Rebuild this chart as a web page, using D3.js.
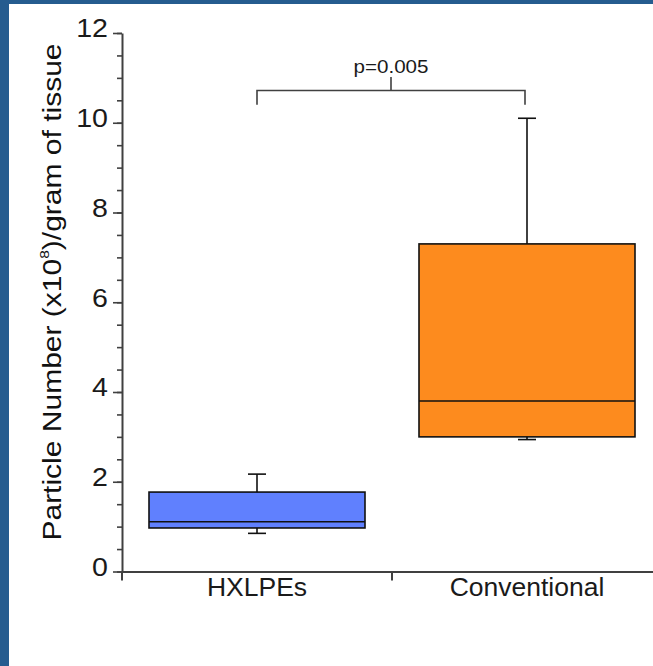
<!DOCTYPE html>
<html>
<head>
<meta charset="utf-8">
<script src="https://cdn.jsdelivr.net/npm/d3@7"></script>
<style>
  html, body { margin: 0; padding: 0; background: #fff; }
  svg { display: block; font-family: "Liberation Sans", Arial, sans-serif; }
</style>
</head>
<body>
<div id="chart"></div>
<script>

//******************************************************************************
//**  Data
//******************************************************************************
var categories = ["HXLPEs", "Conventional"];
var whiskerLow  = [0.85, 2.94];
var q1          = [0.97, 3.00];
var median      = [1.11, 3.80];
var q3          = [1.77, 7.30];
var whiskerHigh = [2.17, 10.1];
var majorTicks = [0, 2, 4, 6, 8, 10, 12];
var minorTicks = d3.range(0, 12.01, 0.5);
var pLabel = "p=0.005";


//******************************************************************************
//**  Chart
//******************************************************************************
var width = 653, height = 666;
var colors = d3.scaleOrdinal().domain(categories).range(["#6080fe", "#fd8b1e"]);

var svg = d3.select("#chart").append("svg")
    .attr("width", width)
    .attr("height", height);

  //Frame
    svg.append("rect").attr("x", 0).attr("y", 0).attr("width", width).attr("height", height).attr("fill", "#fff");
    svg.append("rect").attr("x", 0).attr("y", 0).attr("width", 9).attr("height", height).attr("fill", "#255c8f");
    svg.append("rect").attr("x", 0).attr("y", 0).attr("width", width).attr("height", 4).attr("fill", "#255c8f");


  //Scales
    var y = d3.scaleLinear().domain([0, 12]).range([571.5, 33]);
    var x = d3.scaleBand().domain(categories).range([122, 662]).padding(0);
    var boxW = x.bandwidth() * 0.8;
    var capW = 18;
    var axisColor = "#404040";


  //Y axis (minor then major ticks)
    var yMinor = svg.append("g")
        .attr("transform", "translate(122,0)")
        .call(d3.axisLeft(y).tickValues(minorTicks).tickSize(5).tickSizeOuter(0).tickFormat(""));
    yMinor.select(".domain").remove();
    yMinor.selectAll("line").attr("stroke", axisColor).attr("stroke-width", 1.6);

    var yMajor = svg.append("g")
        .attr("transform", "translate(122,0)")
        .call(d3.axisLeft(y).tickValues(majorTicks).tickSize(9).tickSizeOuter(0).tickPadding(5).tickFormat(d3.format("d")));
    yMajor.select(".domain").attr("stroke", axisColor).attr("stroke-width", 2);
    yMajor.selectAll("line").attr("stroke", axisColor).attr("stroke-width", 1.6);
    yMajor.selectAll("text")
        .attr("font-size", 26)
        .attr("fill", "#1a1a1a")
        .attr("dy", "0.15em")
        .each(function(){
            var w = this.getComputedTextLength();
            d3.select(this).attr("textLength", w * 1.1).attr("lengthAdjust", "spacingAndGlyphs");
        });


  //X axis
    var xAxis = svg.append("g")
        .attr("transform", "translate(0," + y(0) + ")")
        .call(d3.axisBottom(x).tickSize(0).tickSizeOuter(0).tickPadding(5));
    xAxis.select(".domain").attr("stroke", axisColor).attr("stroke-width", 2);
    xAxis.selectAll("text")
        .attr("font-size", 26.5)
        .attr("fill", "#1a1a1a")
        .attr("dy", "0.75em");

  //Category boundary ticks
    var bounds = categories.map(function(d){ return x(d); }).concat([x.range()[1]]);
    svg.append("g").selectAll("line")
        .data(bounds)
        .enter()
        .append("line")
        .attr("x1", function(d){ return d; })
        .attr("x2", function(d){ return d; })
        .attr("y1", y(0))
        .attr("y2", y(0) + 9)
        .attr("stroke", axisColor)
        .attr("stroke-width", 2);


  //Boxes
    var boxes = svg.append("g").selectAll("g")
        .data(categories)
        .enter()
        .append("g");

    boxes.append("line")
        .attr("x1", function(d){ return x(d) + x.bandwidth()/2; })
        .attr("x2", function(d){ return x(d) + x.bandwidth()/2; })
        .attr("y1", function(d, i){ return y(whiskerHigh[i]); })
        .attr("y2", function(d, i){ return y(whiskerLow[i]); })
        .attr("stroke", "#111").attr("stroke-width", 1.6);

    boxes.selectAll(".cap")
        .data(function(d, i){ return [{c: d, v: whiskerLow[i]}, {c: d, v: whiskerHigh[i]}]; })
        .enter()
        .append("line")
        .attr("class", "cap")
        .attr("x1", function(d){ return x(d.c) + x.bandwidth()/2 - capW/2; })
        .attr("x2", function(d){ return x(d.c) + x.bandwidth()/2 + capW/2; })
        .attr("y1", function(d){ return y(d.v); })
        .attr("y2", function(d){ return y(d.v); })
        .attr("stroke", "#111").attr("stroke-width", 1.6);

    boxes.append("rect")
        .attr("x", function(d){ return x(d) + (x.bandwidth() - boxW)/2; })
        .attr("width", boxW)
        .attr("y", function(d, i){ return y(q3[i]); })
        .attr("height", function(d, i){ return y(q1[i]) - y(q3[i]); })
        .attr("fill", function(d){ return colors(d); })
        .attr("stroke", "#111").attr("stroke-width", 1.6);

    boxes.append("line")
        .attr("x1", function(d){ return x(d) + (x.bandwidth() - boxW)/2; })
        .attr("x2", function(d){ return x(d) + (x.bandwidth() + boxW)/2; })
        .attr("y1", function(d, i){ return y(median[i]); })
        .attr("y2", function(d, i){ return y(median[i]); })
        .attr("stroke", "#111").attr("stroke-width", 1.6);


  //Significance bracket
    var cx0 = x(categories[0]) + x.bandwidth()/2;
    var cx1 = x(categories[1]) + x.bandwidth()/2 - 2;
    var cMid = (cx0 + cx1) / 2;
    svg.append("path")
        .attr("d", "M" + cx0 + "," + y(10.4) + "V" + y(10.72) + "H" + cx1 + "V" + y(10.4) +
                   "M" + cMid + "," + y(10.72) + "V" + y(11.02))
        .attr("fill", "none")
        .attr("stroke", axisColor)
        .attr("stroke-width", 1.6);

    svg.append("text")
        .attr("x", cMid)
        .attr("y", 72.5)
        .attr("text-anchor", "middle")
        .attr("font-size", 18)
        .attr("textLength", 75)
        .attr("lengthAdjust", "spacingAndGlyphs")
        .attr("fill", "#1a1a1a")
        .text(pLabel);


  //Y axis label
    var yLabel = svg.append("text")
        .attr("transform", "translate(61,292) rotate(-90) scale(1.2,1)")
        .attr("text-anchor", "middle")
        .attr("font-size", 25)
        .attr("fill", "#111");
    yLabel.append("tspan").text("Particle Number (x10");
    yLabel.append("tspan").attr("font-size", 13).attr("dy", -12).text("8");
    yLabel.append("tspan").attr("dy", 12).text(")/gram of tissue");

</script>
</body>
</html>
